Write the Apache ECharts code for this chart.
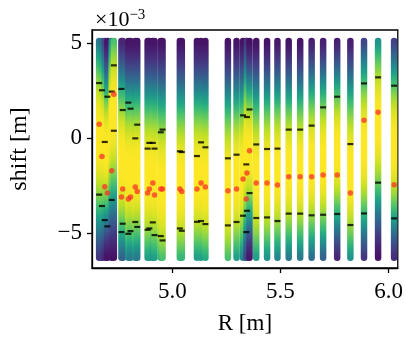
<!DOCTYPE html>
<html>
<head>
<meta charset="utf-8">
<script src="https://cdn.jsdelivr.net/npm/echarts@6/dist/echarts.min.js"></script>
<style>
  html, body { margin: 0; padding: 0; background: #fff; }
  #main { width: 406px; height: 340px; }
</style>
</head>
<body>
<div id="main"></div>
<script>
// major radius of each channel [m]
var R = [4.662, 4.675, 4.688, 4.700, 4.720, 4.730,
         4.765, 4.771, 4.797, 4.807, 4.829, 4.838,
         4.886, 4.894, 4.910, 4.918, 4.947, 4.955,
         5.035, 5.044, 5.114, 5.133, 5.153,
         5.257, 5.297, 5.327, 5.342, 5.345, 5.357,
         5.388, 5.438, 5.486, 5.538, 5.591, 5.644, 5.697,
         5.762, 5.823, 5.886, 5.951, 6.025];
// colour value (0..1) at the top and bottom end of each strip
var topVal = [0.40, 0.35, 0.20, 0.05, 0.45, 0.70,
              0.10, 0.10, 0.05, 0.05, 0.05, 0.05,
              0.05, 0.05, 0.05, 0.05, 0.05, 0.05,
              0.05, 0.05, 0.05, 0.05, 0.05,
              0.05, 0.05, 0.05, 0.03, 0.15, 0.04,
              0.05, 0.05, 0.06, 0.05, 0.05, 0.08, 0.08,
              0.08, 0.08, 0.20, 0.50, 0.18];
var botVal = [0.15, 0.15, 0.10, 0.05, 0.05, 0.05,
              0.35, 0.30, 0.45, 0.40, 0.45, 0.40,
              0.55, 0.55, 0.50, 0.55, 0.65, 0.70,
              0.65, 0.65, 0.55, 0.55, 0.60,
              0.70, 0.55, 0.45, 0.25, 0.20, 0.06,
              0.55, 0.50, 0.45, 0.40, 0.40, 0.35, 0.30,
              0.10, 0.50, 0.15, 0.05, 0.12];
// red dots: estimated shift [1e-3 m]
var redShift = [0.72, -0.98, -2.56, -2.90, -1.72, 2.30,
                -3.11, -2.69, -3.21, -3.11, -2.58, -2.81,
                -2.90, -2.69, -2.37, -3.00, -2.69, -2.69,
                -2.69, -2.81, -2.69, -2.37, -2.58,
                -2.77, -2.69, -2.16, -3.21, -1.84, -0.67,
                -2.37, -2.37, -2.47, -2.04, -2.04, -2.04, -1.95,
                -1.95, -2.90, 0.93, 1.35, -2.46];
// black markers, upper and lower [1e-3 m]
var tickHi = [2.89, 2.51, -0.21, 2.17, 2.44, 3.82,
              2.58, 1.47, 1.86, 1.54, -0.02, 0.70,
              -0.56, -0.26, -0.26, -0.56, 0.30, 0.44,
              -0.70, -0.74, -0.95, -0.23, -0.49,
              -1.07, -0.88, 1.19, -1.39, 1.10, 1.50,
              -0.34, -0.58, -0.56, 0.44, 0.44, 0.65, 1.61,
              2.17, -0.32, 2.87, 3.19, 2.75];
var tickLo = [-2.98, -3.58, -4.32, -4.65, -3.26, 0.38,
              -4.95, -4.51, -5.04, -4.90, -4.42, -4.68,
              -4.83, -4.76, -4.44, -5.11, -5.16, -5.39,
              -4.76, -4.88, -4.41, -4.37, -4.53,
              -4.60, -4.42, -4.09, -4.95, -3.83, -2.90,
              -4.21, -4.18, -4.37, -3.98, -3.98, -4.07, -4.04,
              -4.00, -4.58, -3.97, -2.35, -4.23];

var Y_TOP = 5.1, Y_BOT = -6.3;
var P = 3;  // flatness of the colour profile
var FONT = 'Liberation Serif';

var viridis = ['#440154', '#482475', '#414487', '#355f8d', '#2a788e', '#21918c',
               '#22a884', '#44bf70', '#7ad151', '#bddf26', '#fde725'];
function hex(c) { return [parseInt(c.substr(1, 2), 16), parseInt(c.substr(3, 2), 16), parseInt(c.substr(5, 2), 16)]; }
function cmap(v) {
    v = Math.max(0, Math.min(1, v)) * 10;
    var i = Math.min(9, Math.floor(v)), f = v - i;
    var a = hex(viridis[i]), b = hex(viridis[i + 1]);
    return 'rgb(' + [0, 1, 2].map(function (k) { return Math.round(a[k] + (b[k] - a[k]) * f); }).join(',') + ')';
}

var stripData = R.map(function (r, i) { return [r, topVal[i], botVal[i]]; });
var tickData = [];
R.forEach(function (r, i) { tickData.push([r, tickHi[i]], [r, tickLo[i]]); });
var redData = R.map(function (r, i) { return [r, redShift[i]]; });

var chart = echarts.init(document.getElementById('main'));
chart.setOption({
    animation: false,
    grid: { left: 90, right: 5, top: 30, bottom: 72, show: true, borderColor: '#000', borderWidth: 1.3, backgroundColor: 'transparent' },
    title: {
        text: '{a|×10}{b|−3}', left: 90, top: 3,
        textStyle: { fontWeight: 'normal', rich: {
            a: { fontFamily: FONT, fontSize: 22, fontWeight: 'normal', color: '#000' },
            b: { fontFamily: FONT, fontSize: 15, fontWeight: 'normal', color: '#000', verticalAlign: 'top', padding: [0, 0, 10, 0] }
        } }
    },
    xAxis: {
        type: 'value', min: 4.629, max: 6.042,
        name: 'R [m]', nameLocation: 'middle', nameGap: 44,
        nameTextStyle: { fontFamily: FONT, fontSize: 23, color: '#000' },
        axisLine: { show: true, onZero: false, lineStyle: { color: '#000', width: 1.3 } },
        axisTick: { show: true, length: 5, customValues: [5, 5.5, 6], lineStyle: { color: '#000', width: 1.3 } },
        axisLabel: { customValues: [5, 5.5, 6], margin: 12, fontFamily: FONT, fontSize: 23, color: '#000',
                     formatter: function (v) { return v.toFixed(1); } },
        splitLine: { show: false }
    },
    yAxis: {
        type: 'value', min: -6.84, max: 5.68,
        name: 'shift [m]', nameLocation: 'middle', nameGap: 60,
        nameTextStyle: { fontFamily: FONT, fontSize: 24, color: '#000' },
        axisLine: { show: true, onZero: false, lineStyle: { color: '#000', width: 1.3 } },
        axisTick: { show: true, length: 5, customValues: [-5, 0, 5], lineStyle: { color: '#000', width: 1.3 } },
        axisLabel: { customValues: [-5, 0, 5], margin: 10, fontFamily: FONT, fontSize: 23, color: '#000',
                     formatter: function (v) { return v < 0 ? '−' + Math.abs(v) : String(v); } },
        splitLine: { show: false }
    },
    series: [{
        type: 'custom',
        clip: true,
        data: stripData,
        encode: { x: 0, y: 1 },
        renderItem: function (params, api) {
            var r = api.value(0), vt = Math.max(api.value(1), 0.005), vb = Math.max(api.value(2), 0.005);
            var a = Math.pow(-2 * Math.log(vt), 1 / P), b = Math.pow(-2 * Math.log(vb), 1 / P);
            var s = (Y_TOP - Y_BOT) / (a + b), c = Y_TOP - a * s;
            var p1 = api.coord([r, Y_TOP]), p2 = api.coord([r, Y_BOT]);
            var w = 6.5, len = p2[1] - p1[1], h = len + w;
            var stops = [];
            for (var k = 0; k <= 40; k++) {
                var o = k / 40;
                var t = Math.max(0, Math.min(1, (o * h - w / 2) / len));
                var y = Y_TOP + (Y_BOT - Y_TOP) * t;
                stops.push({ offset: o, color: cmap(Math.exp(-0.5 * Math.pow(Math.abs(y - c) / s, P))) });
            }
            return {
                type: 'rect',
                shape: { x: p1[0] - w / 2, y: p1[1] - w / 2, width: w, height: h, r: w / 2 },
                style: { fill: new echarts.graphic.LinearGradient(0, 0, 0, 1, stops) }
            };
        }
    }, {
        type: 'scatter',
        data: tickData,
        symbol: 'rect',
        symbolSize: [6, 2.2],
        itemStyle: { color: '#000' },
        z: 3
    }, {
        type: 'scatter',
        data: redData,
        symbolSize: 5.5,
        itemStyle: { color: 'rgba(250,45,40,0.9)' },
        z: 4
    }]
});
</script>
</body>
</html>
